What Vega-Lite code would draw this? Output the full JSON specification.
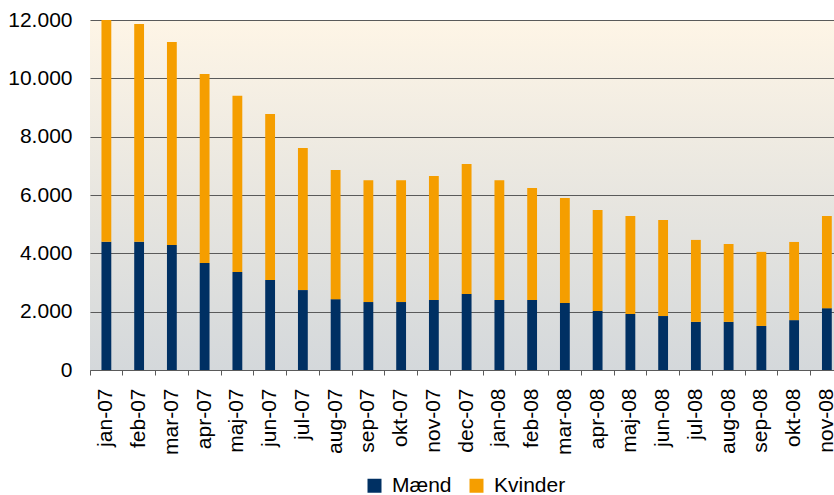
{
  "$schema": "https://vega.github.io/schema/vega-lite/v6.json",
  "width": 744,
  "height": 350,
  "autosize": {"type": "none"},
  "padding": {"left": 90, "top": 20, "right": 0, "bottom": 125},
  "background": "white",
  "config": {
    "font": "Liberation Sans",
    "view": {
      "stroke": null,
      "fill": {
        "gradient": "linear",
        "x1": 0, "y1": 0, "x2": 0, "y2": 1,
        "stops": [
          {"offset": 0, "color": "#FEF5E6"},
          {"offset": 0.5, "color": "#E8E6E0"},
          {"offset": 1, "color": "#D4D8DB"}
        ]
      }
    }
  },
  "data": {
    "values": [
      {"m": "jan-07", "k": "Mænd", "v": 4400}, {"m": "jan-07", "k": "Kvinder", "v": 7600},
      {"m": "feb-07", "k": "Mænd", "v": 4400}, {"m": "feb-07", "k": "Kvinder", "v": 7460},
      {"m": "mar-07", "k": "Mænd", "v": 4290}, {"m": "mar-07", "k": "Kvinder", "v": 6960},
      {"m": "apr-07", "k": "Mænd", "v": 3670}, {"m": "apr-07", "k": "Kvinder", "v": 6480},
      {"m": "maj-07", "k": "Mænd", "v": 3360}, {"m": "maj-07", "k": "Kvinder", "v": 6040},
      {"m": "jun-07", "k": "Mænd", "v": 3090}, {"m": "jun-07", "k": "Kvinder", "v": 5690},
      {"m": "jul-07", "k": "Mænd", "v": 2740}, {"m": "jul-07", "k": "Kvinder", "v": 4870},
      {"m": "aug-07", "k": "Mænd", "v": 2430}, {"m": "aug-07", "k": "Kvinder", "v": 4430},
      {"m": "sep-07", "k": "Mænd", "v": 2330}, {"m": "sep-07", "k": "Kvinder", "v": 4180},
      {"m": "okt-07", "k": "Mænd", "v": 2330}, {"m": "okt-07", "k": "Kvinder", "v": 4180},
      {"m": "nov-07", "k": "Mænd", "v": 2400}, {"m": "nov-07", "k": "Kvinder", "v": 4250},
      {"m": "dec-07", "k": "Mænd", "v": 2610}, {"m": "dec-07", "k": "Kvinder", "v": 4450},
      {"m": "jan-08", "k": "Mænd", "v": 2400}, {"m": "jan-08", "k": "Kvinder", "v": 4110},
      {"m": "feb-08", "k": "Mænd", "v": 2400}, {"m": "feb-08", "k": "Kvinder", "v": 3840},
      {"m": "mar-08", "k": "Mænd", "v": 2300}, {"m": "mar-08", "k": "Kvinder", "v": 3600},
      {"m": "apr-08", "k": "Mænd", "v": 2020}, {"m": "apr-08", "k": "Kvinder", "v": 3470},
      {"m": "maj-08", "k": "Mænd", "v": 1920}, {"m": "maj-08", "k": "Kvinder", "v": 3360},
      {"m": "jun-08", "k": "Mænd", "v": 1850}, {"m": "jun-08", "k": "Kvinder", "v": 3290},
      {"m": "jul-08", "k": "Mænd", "v": 1650}, {"m": "jul-08", "k": "Kvinder", "v": 2810},
      {"m": "aug-08", "k": "Mænd", "v": 1650}, {"m": "aug-08", "k": "Kvinder", "v": 2670},
      {"m": "sep-08", "k": "Mænd", "v": 1510}, {"m": "sep-08", "k": "Kvinder", "v": 2540},
      {"m": "okt-08", "k": "Mænd", "v": 1710}, {"m": "okt-08", "k": "Kvinder", "v": 2680},
      {"m": "nov-08", "k": "Mænd", "v": 2120}, {"m": "nov-08", "k": "Kvinder", "v": 3160}
    ]
  },
  "mark": {"type": "bar", "width": {"band": 0.3}},
  "encoding": {
    "x": {
      "field": "m",
      "type": "nominal",
      "sort": null,
      "scale": {"paddingInner": 0, "paddingOuter": 0, "range": [0, 753.25]},
      "axis": {
        "title": null,
        "bandPosition": 0,
        "labelAngle": -90,
        "labelFontSize": 21,
        "labelColor": "#000000",
        "labelPadding": 13,
        "labelOverlap": false,
        "labelBound": false,
        "tickSize": 5,
        "tickColor": "#5a5a5a",
        "domainColor": "#5a5a5a",
        "grid": false
      }
    },
    "y": {
      "field": "v",
      "type": "quantitative",
      "stack": "zero",
      "scale": {"domain": [0, 12000], "nice": false},
      "axis": {
        "title": null,
        "values": [0, 2000, 4000, 6000, 8000, 10000, 12000],
        "labelExpr": "replace(format(datum.value, ','), ',', '.')",
        "labelFontSize": 21,
        "labelColor": "#000000",
        "labelPadding": 18,
        "ticks": false,
        "domain": false,
        "grid": true,
        "gridColor": "#5a5a5a",
        "gridOpacity": 1
      }
    },
    "color": {
      "field": "k",
      "type": "nominal",
      "sort": ["Mænd", "Kvinder"],
      "scale": {"domain": ["Mænd", "Kvinder"], "range": ["#003063", "#F59E00"]},
      "legend": {
        "title": null,
        "orient": "none",
        "direction": "horizontal",
        "legendX": 274,
        "legendY": 455,
        "symbolType": "square",
        "symbolSize": 196,
        "symbolStrokeWidth": 0,
        "symbolOpacity": 1,
        "labelFontSize": 21,
        "labelColor": "#000000",
        "labelOffset": 7,
        "columnPadding": 14
      }
    },
    "order": {"field": "k", "sort": "descending"}
  }
}
